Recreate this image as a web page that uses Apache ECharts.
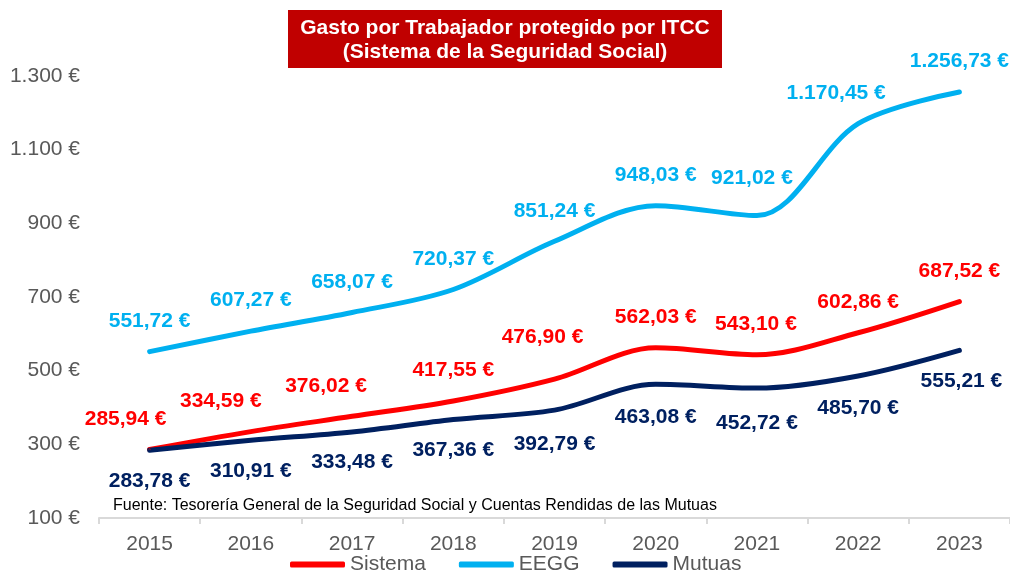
<!DOCTYPE html>
<html>
<head>
<meta charset="utf-8">
<script src="https://cdn.jsdelivr.net/npm/echarts@6/dist/echarts.min.js"></script>
<style>
html,body{margin:0;padding:0;background:#fff;}
#chart{width:1010px;height:575px;}
</style>
</head>
<body>
<div id="chart"></div>
<script>
const years = ['2015','2016','2017','2018','2019','2020','2021','2022','2023'];
const sistema = [285.94, 334.59, 376.02, 417.55, 476.90, 562.03, 543.10, 602.86, 687.52];
const eegg    = [551.72, 607.27, 658.07, 720.37, 851.24, 948.03, 921.02, 1170.45, 1256.73];
const mutuas  = [283.78, 310.91, 333.48, 367.36, 392.79, 463.08, 452.72, 485.70, 555.21];
const yTicks = [100, 300, 500, 700, 900, 1100, 1300];
const titleLines = ['Gasto por Trabajador protegido por ITCC', '(Sistema de la Seguridad Social)'];
const sourceNote = 'Fuente: Tesorería General de la Seguridad Social y Cuentas Rendidas de las Mutuas';

// label nudges [dx, dy] (layout only)
const sistemaLabelShift = [[-24,0], [-30,0], [-26,0], [0,0], [-12,-11], [0,0], [-1,0], [0,0], [0,0]];
const eeggLabelShift    = [[0,0], [0,0], [0,0], [0,0], [0,0], [0,0], [-5,-7], [-22,0], [0,0]];
const mutuasLabelShift  = [[0,0], [0,0], [0,0], [0,0], [0,4], [0,2], [0,5], [0,2], [2,0]];

const FONT = "'Liberation Sans', Arial, sans-serif";

function fmtNum(v, dec) {
  const parts = v.toFixed(dec).split('.');
  const intPart = parts[0].replace(/\B(?=(\d{3})+(?!\d))/g, '.');
  return dec > 0 ? intPart + ',' + parts[1] : intPart;
}

const chart = echarts.init(document.getElementById('chart'), null, {renderer: 'canvas'});

function mkSeries(name, values, color, pos, shifts) {
  return {
    name: name,
    type: 'line',
    smooth: 0.33,
    symbol: 'circle',
    symbolSize: 2,
    showSymbol: true,
    itemStyle: {color: color},
    lineStyle: {color: color, width: 5, cap: 'round'},
    label: {
      show: true,
      position: pos,
      distance: 19,
      fontFamily: FONT,
      fontSize: 21,
      fontWeight: 'bold',
      color: color,
      formatter: p => fmtNum(p.value, 2) + ' €'
    },
    data: values.map((v, i) => {
      const d = {value: v};
      const s = shifts[i];
      if (s[0] || s[1]) d.label = {offset: [s[0], s[1]]};
      return d;
    }),
    z: 3
  };
}

chart.setOption({
  animation: false,
  backgroundColor: '#ffffff',
  legend: {
    left: 285,
    top: 549,
    itemWidth: 55,
    itemHeight: 6,
    itemGap: 33,
    icon: 'roundRect',
    textStyle: {color: '#595959', fontFamily: FONT, fontSize: 21},
    data: ['Sistema', 'EEGG', 'Mutuas']
  },
  grid: {left: 99, top: 76, width: 916, height: 442, containLabel: false},
  xAxis: {
    type: 'category',
    data: years,
    boundaryGap: true,
    axisLine: {show: true, lineStyle: {color: '#d9d9d9', width: 2}},
    axisTick: {show: true, length: 6, lineStyle: {color: '#d9d9d9', width: 2}},
    axisLabel: {color: '#595959', fontFamily: FONT, fontSize: 21, margin: 16},
    splitLine: {show: false}
  },
  yAxis: {
    type: 'value',
    min: yTicks[0],
    max: yTicks[yTicks.length - 1],
    interval: 200,
    axisLine: {show: false},
    axisTick: {show: false},
    splitLine: {show: false},
    axisLabel: {
      color: '#595959', fontFamily: FONT, fontSize: 21, margin: 19,
      formatter: v => fmtNum(v, 0) + ' €'
    }
  },
  graphic: [
    {
      type: 'rect',
      left: 288,
      top: 10,
      shape: {width: 434, height: 58},
      style: {fill: '#C00000'},
      z: 10
    },
    {
      type: 'text',
      x: 505,
      y: 28,
      style: {
        text: titleLines[0],
        fill: '#ffffff',
        font: "bold 21px 'Liberation Sans', Arial, sans-serif",
        align: 'center',
        verticalAlign: 'middle'
      },
      z: 11
    },
    {
      type: 'text',
      x: 505,
      y: 52,
      style: {
        text: titleLines[1],
        fill: '#ffffff',
        font: "bold 21px 'Liberation Sans', Arial, sans-serif",
        align: 'center',
        verticalAlign: 'middle'
      },
      z: 11
    },
    {
      type: 'text',
      left: 113,
      top: 498,
      style: {
        text: sourceNote,
        fill: '#000000',
        font: "16px 'Liberation Sans', Arial, sans-serif"
      }
    }
  ],
  series: [
    mkSeries('Sistema', sistema, '#FF0000', 'top', sistemaLabelShift),
    mkSeries('EEGG', eegg, '#00B0F0', 'top', eeggLabelShift),
    mkSeries('Mutuas', mutuas, '#002060', 'bottom', mutuasLabelShift)
  ]
});
</script>
</body>
</html>
